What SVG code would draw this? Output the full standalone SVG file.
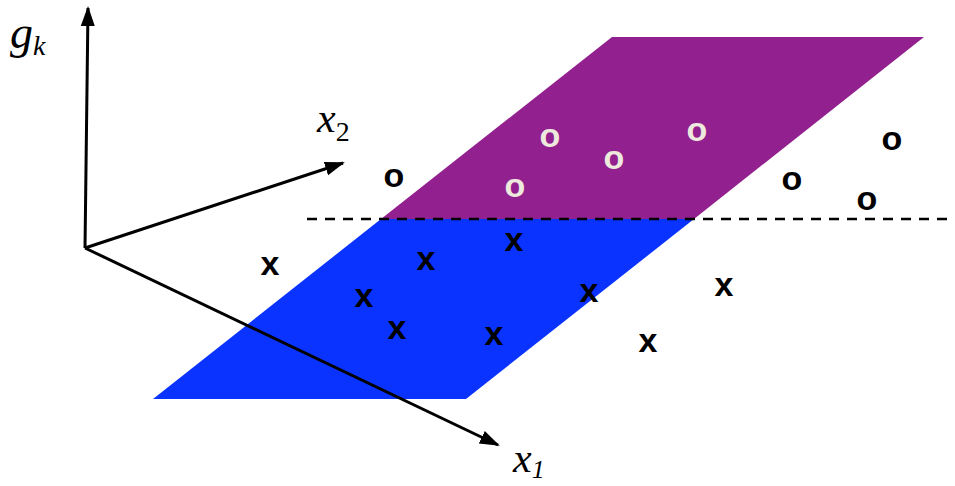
<svg xmlns="http://www.w3.org/2000/svg" width="955" height="486" viewBox="0 0 955 486">
<style>
.ax{stroke:#000;stroke-width:3;fill:none}
.lbl{font-family:"Liberation Serif","Times New Roman",serif;font-style:italic;fill:#000}
.sub{font-family:"Liberation Serif","Times New Roman",serif;fill:#000}
.m{font-family:"Liberation Sans",Arial,sans-serif;font-weight:bold;font-size:34px;text-anchor:middle}
.k{fill:#000}
.w{fill:#EEE9DD}
</style>
<defs>
<marker id="ah2" viewBox="0 0 10 10" refX="9" refY="5" markerWidth="20" markerHeight="20" markerUnits="userSpaceOnUse" orient="auto">
<path d="M0,1.5 L10,5 L0,8.5 z" fill="#000"/>
</marker>
</defs>
<rect width="955" height="486" fill="#fff"/>
<g id="planes">
<polygon id="purple-plane" points="612,37 924,37 694,219 381,219" fill="#92208F"/>
<polygon id="blue-plane" points="381,219 694,219 466,399 153,399" fill="#0A33FF"/>
</g>
<g id="connectors">
<line class="ax" x1="85" y1="248" x2="88" y2="8" marker-end="url(#ah2)"/>
<line class="ax" x1="85" y1="248" x2="343" y2="163" marker-end="url(#ah2)"/>
<line class="ax" x1="85" y1="248" x2="498" y2="445" marker-end="url(#ah2)"/>
<line x1="307" y1="219" x2="955" y2="219" stroke="#000" stroke-width="2.5" stroke-dasharray="10,8"/>
</g>
<g id="labels">
<text class="lbl" x="10" y="48" font-size="46">g<tspan font-size="28" dy="7">k</tspan></text>
<text class="lbl" x="317" y="132" font-size="42">x<tspan class="sub" font-style="normal" font-size="28" dy="9">2</tspan></text>
<text class="lbl" x="513" y="472" font-size="42">x<tspan font-size="26" dy="6">1</tspan></text>
</g>
<g id="points-o">
<text class="m k" x="394" y="187">o</text>
<text class="m k" x="792" y="190">o</text>
<text class="m k" x="867" y="210">o</text>
<text class="m k" x="892" y="150">o</text>
<text class="m w" x="550" y="147">o</text>
<text class="m w" x="614" y="169">o</text>
<text class="m w" x="697" y="141">o</text>
<text class="m w" x="515" y="197">o</text>
</g>
<g id="points-x">
<text class="m k" x="270" y="275">x</text>
<text class="m k" x="426" y="270">x</text>
<text class="m k" x="514" y="251">x</text>
<text class="m k" x="364" y="307">x</text>
<text class="m k" x="589" y="302">x</text>
<text class="m k" x="724" y="296">x</text>
<text class="m k" x="397" y="339">x</text>
<text class="m k" x="494" y="345">x</text>
<text class="m k" x="648" y="352">x</text>
</g>
</svg>
